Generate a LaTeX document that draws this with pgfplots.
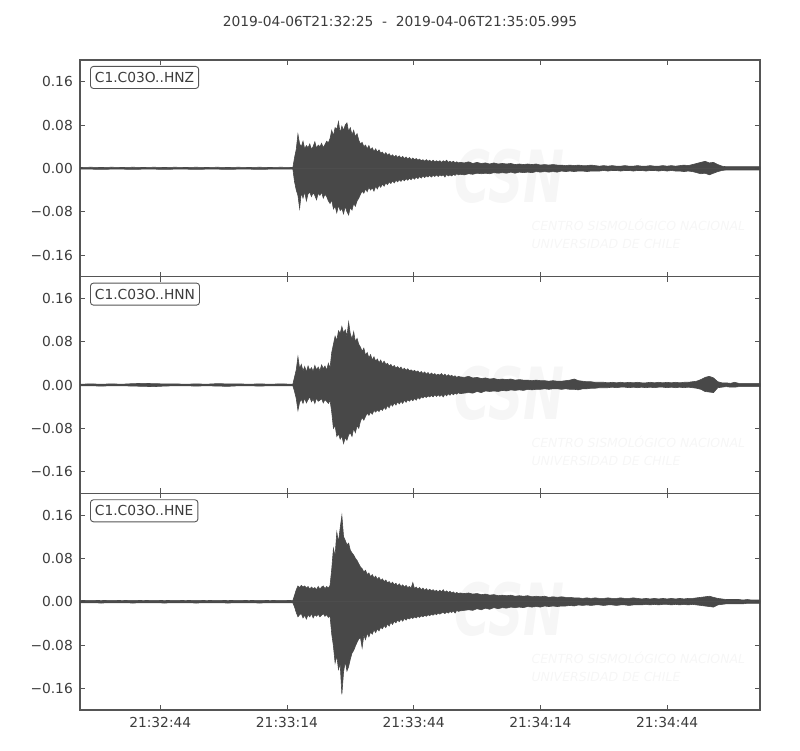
\documentclass[border=0pt]{standalone}
\usepackage{fontspec}
\setmainfont{DejaVu Sans}
\usepackage{pgfplots}
\pgfplotsset{compat=1.18}
\usepackage{pgfplotstable}

\definecolor{tr}{RGB}{72,72,72}
\definecolor{fr}{RGB}{85,85,85}
\definecolor{tx}{RGB}{60,60,60}
\definecolor{wm}{RGB}{246,246,246}
\newcommand{\tf}{\fontsize{13.8}{16}\selectfont}

% seconds after 21:32:25, upper and lower envelope of each trace
\pgfplotstableread{
t hi lo
0 0.0015 -0.0015
2.5 0.002 -0.0015
5 0.0015 -0.002
7.5 0.002 -0.0015
10 0.0015 -0.0015
12.5 0.002 -0.002
15 0.0015 -0.0015
17.5 0.002 -0.0015
20 0.0015 -0.002
22.5 0.002 -0.0015
25 0.0015 -0.0015
27.5 0.002 -0.002
30 0.0015 -0.0015
32.5 0.002 -0.0015
35 0.0015 -0.002
37.5 0.002 -0.0015
40 0.0015 -0.0015
42.5 0.002 -0.002
45 0.0015 -0.0015
47.5 0.002 -0.0015
50.4 0.0015 -0.0015
50.8 0.02 -0.025
51.2 0.035 -0.04
51.6 0.063 -0.05
52.0 0.045 -0.074
52.4 0.04 -0.045
52.8 0.05 -0.055
53.2 0.036 -0.043
53.6 0.042 -0.06
54.0 0.038 -0.047
54.4 0.045 -0.044
54.8 0.035 -0.052
55.2 0.04 -0.045
55.6 0.049 -0.05
56.0 0.037 -0.058
56.4 0.043 -0.046
56.8 0.04 -0.05
57.2 0.046 -0.044
57.6 0.038 -0.055
58.0 0.044 -0.048
58.4 0.05 -0.052
58.8 0.047 -0.06
59.2 0.055 -0.065
59.6 0.07 -0.058
60.0 0.06 -0.075
60.4 0.075 -0.07
60.8 0.072 -0.082
61.2 0.086 -0.068
61.6 0.065 -0.078
62.0 0.078 -0.074
62.4 0.07 -0.084
62.8 0.08 -0.07
63.2 0.084 -0.08
63.6 0.068 -0.086
64.0 0.075 -0.072
64.4 0.062 -0.077
64.8 0.07 -0.065
65.2 0.058 -0.07
65.6 0.064 -0.06
66.0 0.052 -0.055
66.4 0.045 -0.048
66.8 0.048 -0.042
67.2 0.04 -0.046
67.6 0.043 -0.038
68.0 0.036 -0.043
68.4 0.042 -0.035
68.8 0.034 -0.04
69.2 0.038 -0.036
69.6 0.031 -0.042
70.0 0.036 -0.033
70.4 0.03 -0.038
70.8 0.034 -0.031
71.2 0.028 -0.035
71.6 0.03 -0.029
72.0 0.025 -0.033
72.4 0.029 -0.027
72.8 0.024 -0.03
73.2 0.027 -0.025
73.6 0.022 -0.028
74.0 0.025 -0.023
74.4 0.021 -0.027
74.8 0.024 -0.022
75.2 0.02 -0.025
75.6 0.023 -0.021
76.0 0.019 -0.024
76.4 0.022 -0.02
76.8 0.018 -0.023
77.2 0.021 -0.019
77.6 0.017 -0.022
78.0 0.02 -0.018
78.4 0.016 -0.021
78.8 0.019 -0.017
79.2 0.016 -0.02
79.6 0.018 -0.016
80.0 0.015 -0.019
80.4 0.017 -0.015
80.8 0.014 -0.018
81.2 0.016 -0.014
81.6 0.013 -0.017
82.0 0.016 -0.014
82.4 0.013 -0.016
82.8 0.015 -0.013
83.2 0.012 -0.016
83.6 0.015 -0.013
84.0 0.012 -0.015
84.4 0.014 -0.012
84.8 0.012 -0.015
85.2 0.014 -0.012
85.6 0.011 -0.014
86.0 0.014 -0.012
86.4 0.012 -0.016
86.8 0.015 -0.011
87.2 0.011 -0.014
87.6 0.013 -0.012
88.0 0.011 -0.014
88.4 0.013 -0.011
88.8 0.01 -0.013
89.2 0.012 -0.01
89.6 0.01 -0.012
90 0.011 -0.011
91 0.01 -0.012
92 0.012 -0.01
93 0.009 -0.011
94 0.011 -0.009
95 0.009 -0.01
96 0.01 -0.009
97 0.008 -0.01
98 0.01 -0.008
99 0.008 -0.009
100 0.009 -0.008
101 0.008 -0.009
102 0.009 -0.007
103 0.007 -0.009
104 0.008 -0.007
105 0.007 -0.008
106 0.008 -0.007
107 0.007 -0.008
108 0.008 -0.006
109 0.006 -0.007
110 0.007 -0.006
111 0.006 -0.007
112 0.007 -0.006
113 0.006 -0.007
114 0.006 -0.005
115 0.005 -0.006
116 0.006 -0.005
117 0.005 -0.006
118 0.006 -0.005
119 0.005 -0.005
120 0.005 -0.006
121 0.006 -0.005
122 0.005 -0.005
123 0.004 -0.005
124 0.005 -0.004
125 0.004 -0.005
126 0.005 -0.004
127 0.004 -0.004
128 0.004 -0.005
129 0.005 -0.004
130 0.004 -0.004
131 0.004 -0.005
132 0.005 -0.004
133 0.004 -0.004
134 0.004 -0.005
135 0.005 -0.004
136 0.004 -0.004
137 0.004 -0.005
138 0.005 -0.004
139 0.004 -0.005
140 0.005 -0.004
141 0.004 -0.005
142 0.005 -0.005
143 0.006 -0.006
144 0.005 -0.005
145 0.007 -0.006
146 0.009 -0.008
147 0.011 -0.01
148 0.013 -0.009
149 0.01 -0.012
150 0.011 -0.009
151 0.007 -0.006
152 0.004 -0.004
153 0.003 -0.003
154 0.003 -0.003
155 0.003 -0.003
156 0.003 -0.003
157 0.003 -0.003
158 0.003 -0.003
159 0.003 -0.003
160 0.003 -0.003
161 0.003 -0.003
}\zdata

\pgfplotstableread{
t hi lo
0 0.0015 -0.0015
2.5 0.002 -0.0015
5 0.0015 -0.002
7.5 0.002 -0.0015
10 0.0015 -0.0015
12.5 0.0025 -0.002
15 0.003 -0.0025
17.5 0.0025 -0.003
20 0.002 -0.002
22.5 0.002 -0.0015
25 0.0015 -0.0015
27.5 0.002 -0.002
30 0.0015 -0.0015
32.5 0.0025 -0.002
35 0.002 -0.0025
37.5 0.002 -0.0015
40 0.0015 -0.0015
42.5 0.002 -0.002
45 0.0015 -0.0015
47.5 0.002 -0.0015
50.4 0.0015 -0.0015
50.8 0.015 -0.012
51.2 0.028 -0.025
51.6 0.052 -0.047
52.0 0.03 -0.032
52.4 0.038 -0.026
52.8 0.026 -0.034
53.2 0.034 -0.024
53.6 0.024 -0.033
54.0 0.035 -0.027
54.4 0.027 -0.022
54.8 0.032 -0.031
55.2 0.025 -0.026
55.6 0.036 -0.034
56.0 0.028 -0.024
56.4 0.033 -0.03
56.8 0.026 -0.028
57.2 0.037 -0.025
57.6 0.03 -0.033
58.0 0.035 -0.027
58.4 0.027 -0.03
58.8 0.04 -0.034
59.2 0.031 -0.028
59.6 0.06 -0.05
60.0 0.075 -0.08
60.4 0.09 -0.075
60.8 0.082 -0.095
61.2 0.1 -0.09
61.6 0.095 -0.1
62.0 0.108 -0.094
62.4 0.096 -0.108
62.8 0.102 -0.097
63.2 0.09 -0.102
63.6 0.116 -0.092
64.0 0.094 -0.088
64.4 0.085 -0.095
64.8 0.098 -0.08
65.2 0.08 -0.088
65.6 0.086 -0.075
66.0 0.075 -0.08
66.4 0.07 -0.067
66.8 0.062 -0.06
67.2 0.068 -0.065
67.6 0.055 -0.058
68.0 0.06 -0.052
68.4 0.05 -0.056
68.8 0.056 -0.05
69.2 0.046 -0.054
69.6 0.052 -0.047
70.0 0.044 -0.05
70.4 0.048 -0.046
70.8 0.041 -0.049
71.2 0.046 -0.044
71.6 0.039 -0.047
72.0 0.044 -0.041
72.4 0.038 -0.045
72.8 0.04 -0.038
73.2 0.035 -0.042
73.6 0.038 -0.035
74.0 0.033 -0.039
74.4 0.036 -0.033
74.8 0.031 -0.037
75.2 0.034 -0.031
75.6 0.03 -0.035
76.0 0.033 -0.03
76.4 0.028 -0.034
76.8 0.031 -0.028
77.2 0.027 -0.032
77.6 0.03 -0.027
78.0 0.026 -0.03
78.4 0.028 -0.026
78.8 0.025 -0.029
79.2 0.027 -0.025
79.6 0.024 -0.028
80.0 0.026 -0.023
80.4 0.022 -0.026
80.8 0.025 -0.022
81.2 0.021 -0.024
81.6 0.024 -0.021
82.0 0.02 -0.023
82.4 0.023 -0.02
82.8 0.019 -0.022
83.2 0.022 -0.019
83.6 0.019 -0.022
84.0 0.021 -0.018
84.4 0.018 -0.021
84.8 0.02 -0.018
85.2 0.018 -0.021
85.6 0.021 -0.018
86.0 0.017 -0.022
86.4 0.02 -0.017
86.8 0.016 -0.02
87.2 0.019 -0.016
87.6 0.016 -0.019
88.0 0.018 -0.015
88.4 0.015 -0.018
88.8 0.017 -0.015
89.2 0.014 -0.017
89.6 0.016 -0.014
90 0.015 -0.016
91 0.014 -0.015
92 0.016 -0.014
93 0.013 -0.015
94 0.014 -0.012
95 0.012 -0.014
96 0.013 -0.011
97 0.011 -0.012
98 0.012 -0.011
99 0.01 -0.012
100 0.011 -0.01
101 0.01 -0.011
102 0.011 -0.009
103 0.009 -0.01
104 0.01 -0.009
105 0.009 -0.01
106 0.009 -0.008
107 0.008 -0.009
108 0.009 -0.008
109 0.008 -0.008
110 0.008 -0.007
111 0.007 -0.008
112 0.008 -0.007
113 0.007 -0.007
114 0.007 -0.008
115 0.008 -0.007
116 0.009 -0.008
117 0.011 -0.008
118 0.008 -0.009
119 0.007 -0.007
120 0.006 -0.007
121 0.006 -0.006
122 0.005 -0.006
123 0.005 -0.005
124 0.005 -0.005
125 0.004 -0.005
126 0.005 -0.004
127 0.004 -0.005
128 0.005 -0.004
129 0.004 -0.004
130 0.005 -0.005
131 0.004 -0.004
132 0.005 -0.005
133 0.004 -0.004
134 0.004 -0.005
135 0.005 -0.004
136 0.004 -0.005
137 0.005 -0.004
138 0.004 -0.004
139 0.005 -0.005
140 0.004 -0.004
141 0.005 -0.005
142 0.004 -0.004
143 0.005 -0.005
144 0.005 -0.004
145 0.006 -0.005
146 0.007 -0.006
147 0.01 -0.008
148 0.014 -0.012
149 0.016 -0.013
150 0.013 -0.014
151 0.006 -0.005
152 0.004 -0.004
153 0.004 -0.003
154 0.003 -0.004
155 0.005 -0.004
156 0.003 -0.003
157 0.003 -0.003
158 0.003 -0.003
159 0.003 -0.003
160 0.003 -0.003
161 0.003 -0.003
}\ndata

\pgfplotstableread{
t hi lo
0 0.002 -0.002
2.5 0.0025 -0.002
5 0.002 -0.0025
7.5 0.0025 -0.002
10 0.002 -0.002
12.5 0.0025 -0.0025
15 0.002 -0.002
17.5 0.0025 -0.002
20 0.002 -0.0025
22.5 0.0025 -0.002
25 0.002 -0.002
27.5 0.0025 -0.0025
30 0.002 -0.002
32.5 0.0025 -0.002
35 0.002 -0.0025
37.5 0.0025 -0.002
40 0.002 -0.002
42.5 0.0025 -0.0025
45 0.002 -0.002
47.5 0.0025 -0.002
50.4 0.002 -0.002
50.8 0.012 -0.01
51.2 0.022 -0.02
51.6 0.029 -0.028
52.0 0.026 -0.024
52.4 0.03 -0.022
52.8 0.027 -0.03
53.2 0.029 -0.025
53.6 0.025 -0.032
54.0 0.028 -0.024
54.4 0.023 -0.028
54.8 0.027 -0.022
55.2 0.024 -0.03
55.6 0.026 -0.024
56.0 0.022 -0.027
56.4 0.028 -0.023
56.8 0.023 -0.028
57.2 0.027 -0.025
57.6 0.029 -0.022
58.0 0.024 -0.027
58.4 0.028 -0.024
58.8 0.025 -0.029
59.2 0.03 -0.026
59.6 0.06 -0.06
60.0 0.098 -0.082
60.4 0.085 -0.113
60.8 0.128 -0.1
61.2 0.11 -0.125
61.6 0.136 -0.115
62.0 0.159 -0.171
62.4 0.12 -0.13
62.8 0.113 -0.11
63.2 0.105 -0.128
63.6 0.108 -0.12
64.0 0.095 -0.106
64.4 0.09 -0.095
64.8 0.086 -0.09
65.2 0.08 -0.082
65.6 0.076 -0.075
66.0 0.07 -0.069
66.4 0.064 -0.066
66.8 0.061 -0.085
67.2 0.055 -0.062
67.6 0.058 -0.07
68.0 0.05 -0.058
68.4 0.053 -0.065
68.8 0.046 -0.056
69.2 0.05 -0.06
69.6 0.044 -0.052
70.0 0.047 -0.057
70.4 0.041 -0.05
70.8 0.045 -0.054
71.2 0.039 -0.047
71.6 0.042 -0.05
72.0 0.037 -0.044
72.4 0.04 -0.048
72.8 0.035 -0.041
73.2 0.037 -0.045
73.6 0.033 -0.038
74.0 0.036 -0.042
74.4 0.031 -0.036
74.8 0.034 -0.039
75.2 0.029 -0.034
75.6 0.033 -0.037
76.0 0.028 -0.032
76.4 0.031 -0.036
76.8 0.027 -0.031
77.2 0.03 -0.034
77.6 0.026 -0.03
78.0 0.028 -0.032
78.4 0.025 -0.029
78.8 0.035 -0.031
79.2 0.024 -0.028
79.6 0.027 -0.03
80.0 0.023 -0.027
80.4 0.026 -0.029
80.8 0.022 -0.026
81.2 0.025 -0.028
81.6 0.021 -0.025
82.0 0.024 -0.027
82.4 0.02 -0.024
82.8 0.023 -0.026
83.2 0.02 -0.023
83.6 0.022 -0.025
84.0 0.019 -0.022
84.4 0.021 -0.024
84.8 0.018 -0.021
85.2 0.021 -0.023
85.6 0.018 -0.021
86.0 0.022 -0.02
86.4 0.017 -0.022
86.8 0.02 -0.019
87.2 0.017 -0.021
87.6 0.019 -0.018
88.0 0.016 -0.02
88.4 0.018 -0.017
88.8 0.015 -0.021
89.2 0.017 -0.016
89.6 0.015 -0.018
90 0.016 -0.017
91 0.015 -0.016
92 0.016 -0.015
93 0.014 -0.016
94 0.015 -0.013
95 0.013 -0.015
96 0.014 -0.012
97 0.012 -0.014
98 0.013 -0.011
99 0.011 -0.013
100 0.012 -0.011
101 0.011 -0.012
102 0.012 -0.01
103 0.01 -0.011
104 0.011 -0.01
105 0.01 -0.011
106 0.011 -0.009
107 0.009 -0.01
108 0.01 -0.009
109 0.009 -0.01
110 0.01 -0.008
111 0.008 -0.009
112 0.009 -0.008
113 0.008 -0.009
114 0.009 -0.008
115 0.008 -0.008
116 0.008 -0.007
117 0.007 -0.008
118 0.007 -0.006
119 0.006 -0.007
120 0.007 -0.006
121 0.006 -0.007
122 0.007 -0.006
123 0.006 -0.006
124 0.006 -0.007
125 0.007 -0.006
126 0.006 -0.006
127 0.006 -0.007
128 0.007 -0.006
129 0.006 -0.006
130 0.006 -0.007
131 0.007 -0.006
132 0.006 -0.006
133 0.005 -0.006
134 0.006 -0.005
135 0.005 -0.006
136 0.006 -0.005
137 0.005 -0.006
138 0.006 -0.005
139 0.005 -0.005
140 0.006 -0.006
141 0.005 -0.005
142 0.006 -0.006
143 0.005 -0.005
144 0.006 -0.006
145 0.006 -0.005
146 0.007 -0.006
147 0.008 -0.007
148 0.009 -0.008
149 0.01 -0.009
150 0.008 -0.01
151 0.006 -0.006
152 0.005 -0.005
153 0.004 -0.004
154 0.004 -0.004
155 0.004 -0.004
156 0.004 -0.004
157 0.003 -0.004
158 0.004 -0.003
159 0.003 -0.003
160 0.003 -0.003
161 0.003 -0.003
}\edata

\pgfplotsset{
  seis/.style={
    scale only axis,
    width=680pt, height=216.67pt,
    anchor=south west,
    xmin=0, xmax=161,
    ymin=-0.2, ymax=0.2,
    axis line style={fr, line width=1.1pt},
    tick align=inside,
    major tick length=5pt,
    tick style={fr, line width=0.8pt},
    xtick={19,49,79,109,139},
    ytick={-0.16,-0.08,0,0.08,0.16},
    yticklabels={−0.16,−0.08,0.00,0.08,0.16},
    tick label style={font=\tf, text=tx},
    yticklabel style={inner sep=0pt, xshift=-7pt},
    xticklabel style={inner sep=0pt, yshift=-7pt},
  },
  band/.style={draw=tr, fill=tr, line width=0.6pt},
}
\tikzset{
  lbl/.style={anchor=north west, draw=fr, line width=0.9pt, rounded corners=3pt,
    fill=white, inner xsep=4.5pt, inner ysep=5.8pt, text=tx, font=\tf},
}

\newcommand{\watermark}[1]{%
  \node[text=wm, anchor=south west, xscale=0.68,
    font=\fontsize{72}{72}\selectfont\bfseries\itshape]
    at (452pt,{#1pt}) {CSN};
  \node[text=wm, anchor=south west, font=\fontsize{12.5}{14}\selectfont\itshape]
    at (528pt,{#1pt-27pt}) {CENTRO SISMOLÓGICO NACIONAL};
  \node[text=wm, anchor=south west, font=\fontsize{12.5}{14}\selectfont\itshape]
    at (528pt,{#1pt-45pt}) {UNIVERSIDAD DE CHILE};
}

\begin{document}
\begin{tikzpicture}
\useasboundingbox (0pt,0pt) rectangle (800pt,750pt);

\node[text=tx, font=\tf] at (400pt,729pt)
  {2019-04-06T21:32:25\ \ -\ \ 2019-04-06T21:35:05.995};

\watermark{543}
\watermark{326}
\watermark{110}

\begin{axis}[seis, at={(80pt,473.33pt)}, xticklabels={,,,,}]
  \addplot[band] table[x=t, y=hi] {\zdata} \closedcycle;
  \addplot[band] table[x=t, y=lo] {\zdata} \closedcycle;
  \node[lbl, xshift=10pt, yshift=-6pt] at (rel axis cs:0,1) {C1.C03O..HNZ};
\end{axis}

\begin{axis}[seis, at={(80pt,256.67pt)}, xticklabels={,,,,}]
  \addplot[band] table[x=t, y=hi] {\ndata} \closedcycle;
  \addplot[band] table[x=t, y=lo] {\ndata} \closedcycle;
  \node[lbl, xshift=10pt, yshift=-6pt] at (rel axis cs:0,1) {C1.C03O..HNN};
\end{axis}

\begin{axis}[seis, at={(80pt,40pt)},
    xticklabels={21:32:44,21:33:14,21:33:44,21:34:14,21:34:44}]
  \addplot[band] table[x=t, y=hi] {\edata} \closedcycle;
  \addplot[band] table[x=t, y=lo] {\edata} \closedcycle;
  \node[lbl, xshift=10pt, yshift=-6pt] at (rel axis cs:0,1) {C1.C03O..HNE};
\end{axis}
\end{tikzpicture}
\end{document}
